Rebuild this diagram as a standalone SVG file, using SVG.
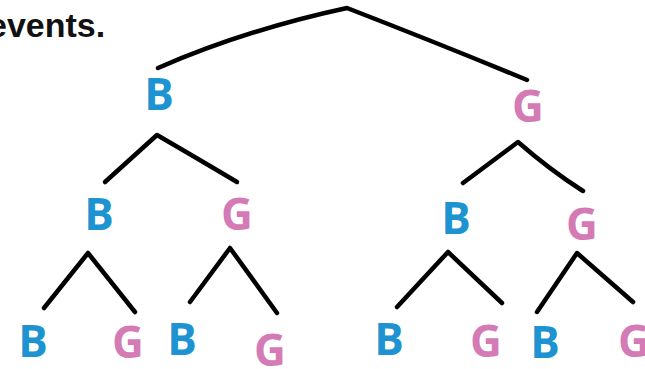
<svg xmlns="http://www.w3.org/2000/svg" width="645" height="369" viewBox="0 0 645 369">
<style>
.b{fill:#1d93d2}
.g{fill:#d47ab5}
.lbl{font-family:"Open Sans","Noto Sans",sans-serif;font-size:44px;font-weight:700;text-anchor:middle}
.e{fill:none;stroke:#000;stroke-width:4.5;stroke-linecap:round;stroke-linejoin:round}
.cap{font-family:"Liberation Sans",Arial,sans-serif;font-weight:bold;font-size:34px;fill:#111}
</style>
<rect width="645" height="369" fill="#fff"/>
<text class="cap" x="-12" y="37">events.</text>
<g id="connectors">
<path class="e" d="M158 68 Q245 30 347 8 Q445 46 527 80"/>
<path class="e" d="M105 182 L157 135 Q200 160 237 182"/>
<path class="e" d="M463 183 L518 142 Q550 170 583 191"/>
<path class="e" d="M44 308 L88 253 L135 312"/>
<path class="e" d="M190 302 L230 248 L277 313"/>
<path class="e" d="M397 307 L448 252 L502 303"/>
<path class="e" d="M537 312 L577 253 L633 302"/>
</g>
<g id="n-b1"><text class="lbl b" x="159" y="110">B</text></g>
<g id="n-g1"><text class="lbl g" x="528" y="122">G</text></g>
<g id="n-bb"><text class="lbl b" x="99" y="230">B</text></g>
<g id="n-bg"><text class="lbl g" x="237" y="230">G</text></g>
<g id="n-gb"><text class="lbl b" x="456" y="234">B</text></g>
<g id="n-gg"><text class="lbl g" x="582" y="240">G</text></g>
<g id="n-bbb"><text class="lbl b" x="33" y="357">B</text></g>
<g id="n-bbg"><text class="lbl g" x="128" y="358">G</text></g>
<g id="n-bgb"><text class="lbl b" x="182" y="355">B</text></g>
<g id="n-bgg"><text class="lbl g" x="270" y="366">G</text></g>
<g id="n-gbb"><text class="lbl b" x="389" y="355">B</text></g>
<g id="n-gbg"><text class="lbl g" x="486" y="357">G</text></g>
<g id="n-ggb"><text class="lbl b" x="545" y="358">B</text></g>
<g id="n-ggg"><text class="lbl g" x="634" y="357">G</text></g>
</svg>
